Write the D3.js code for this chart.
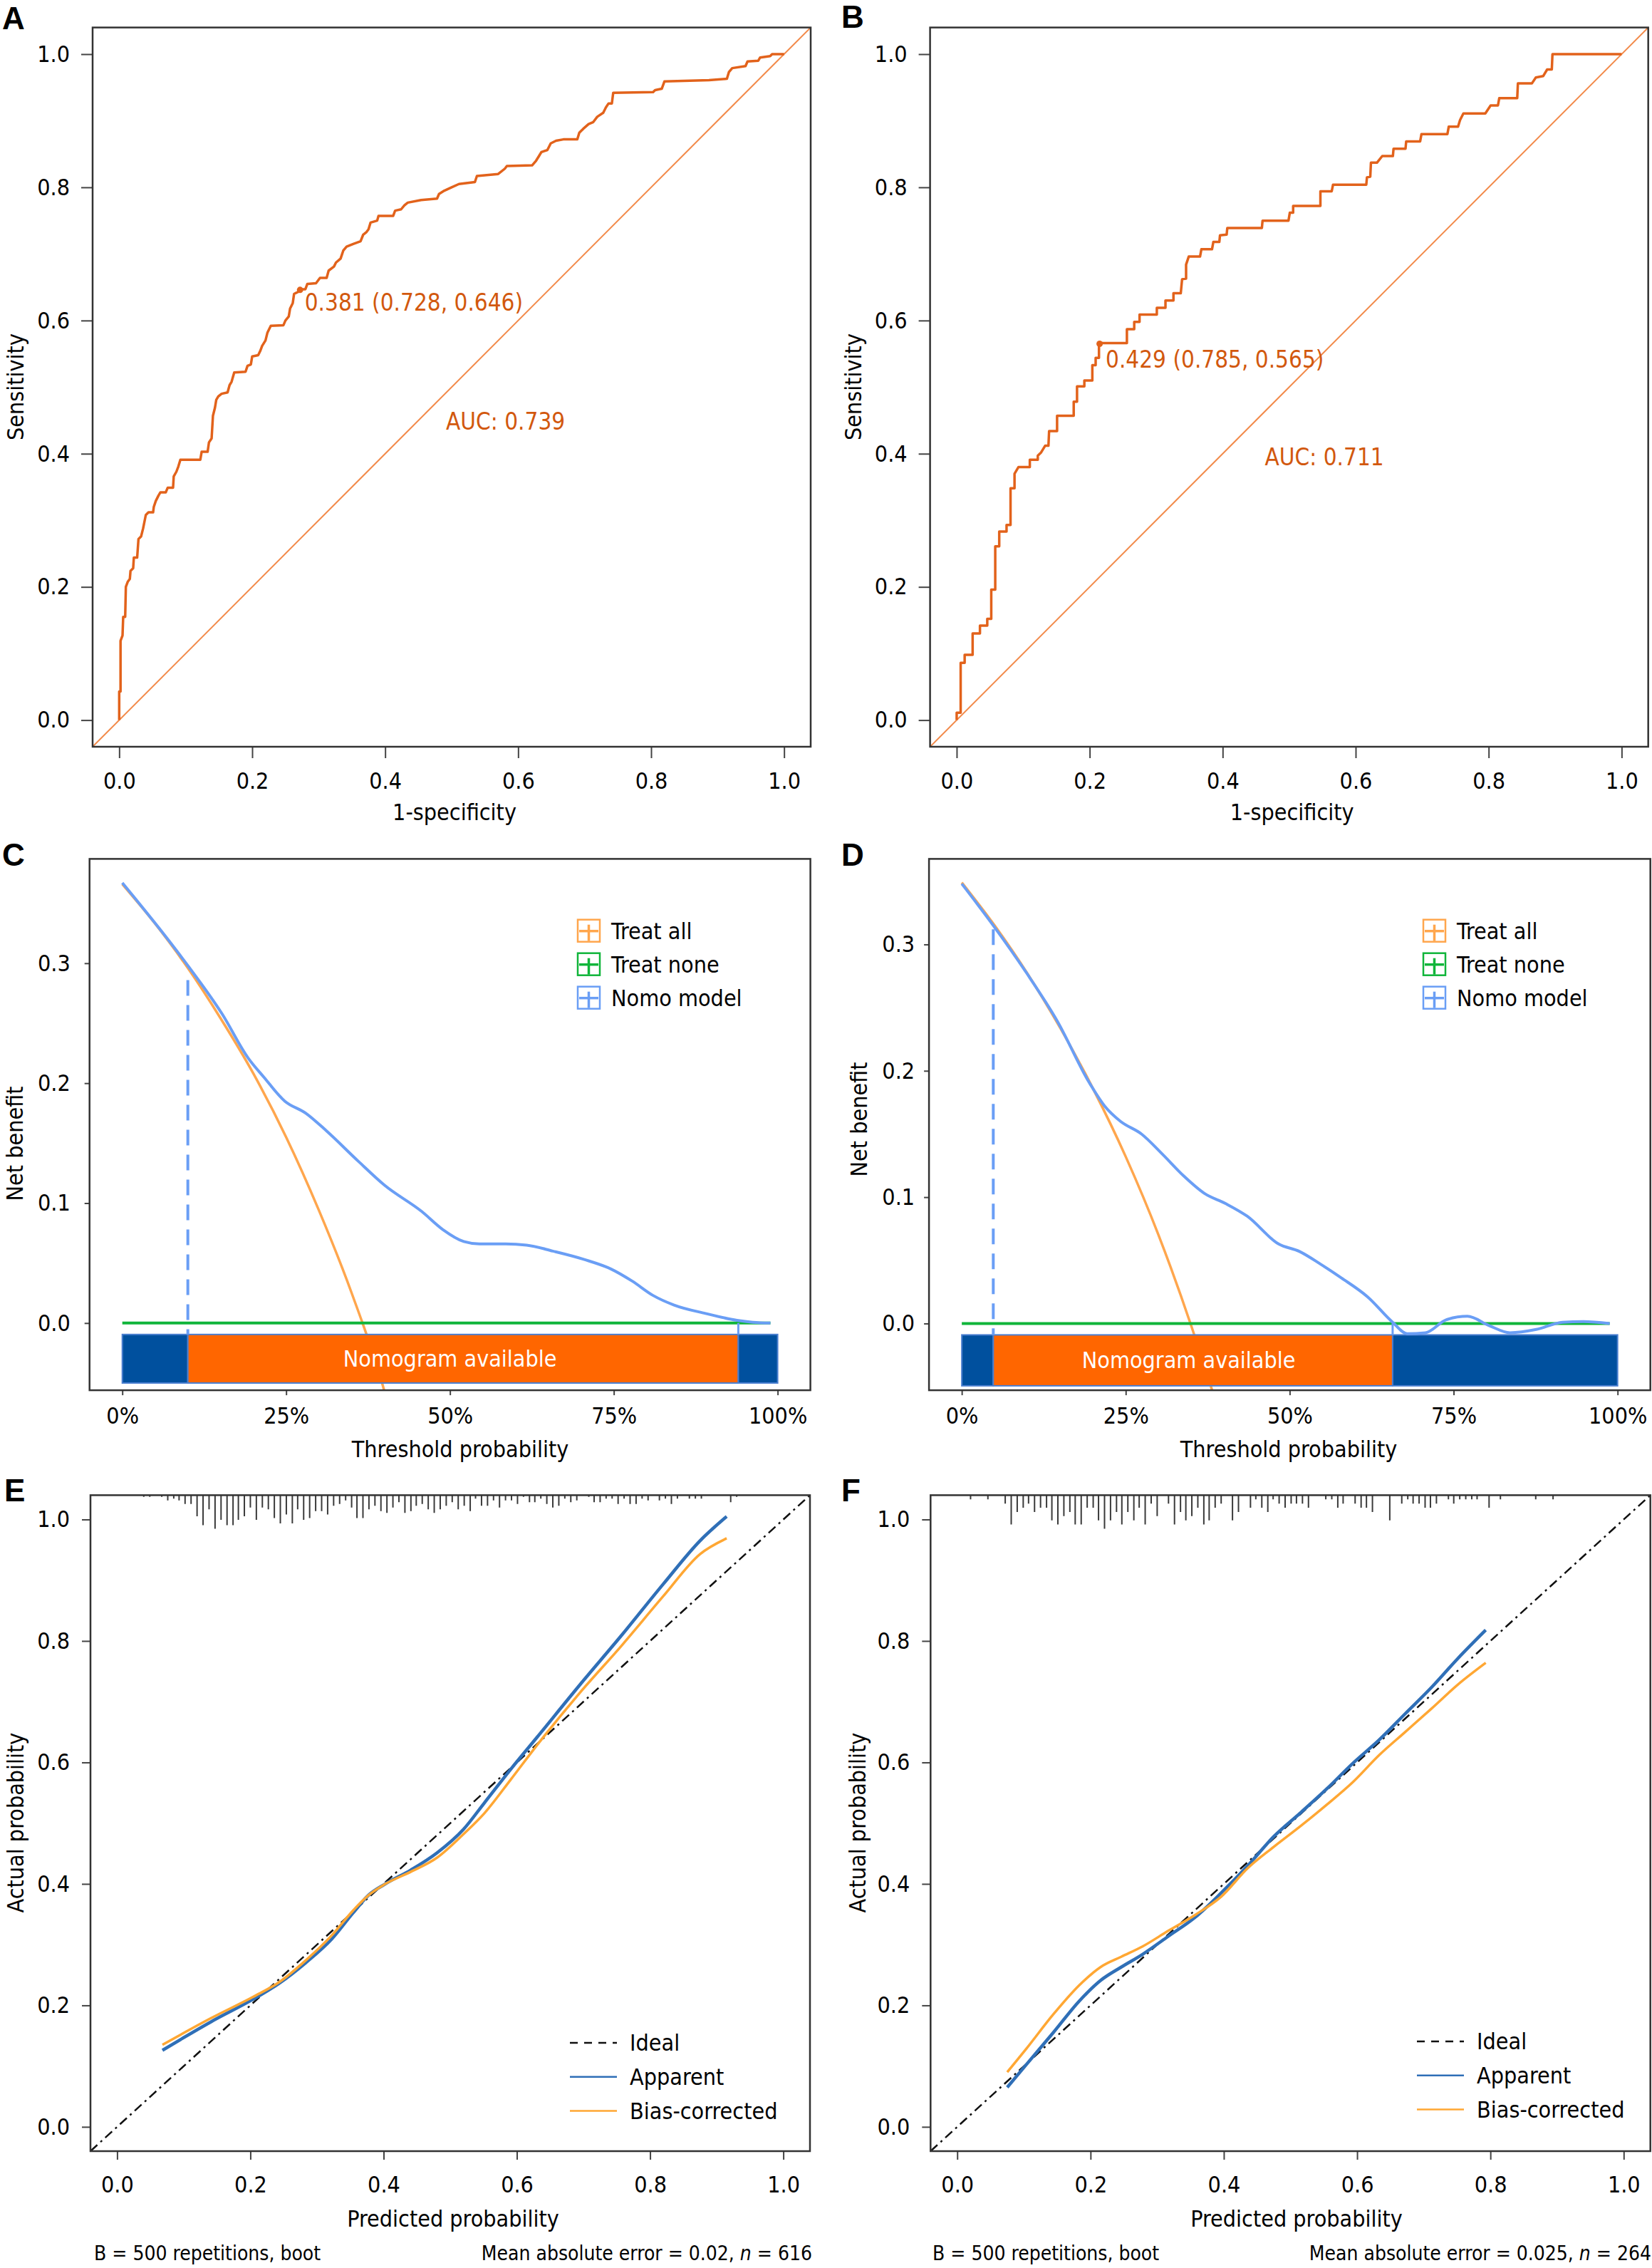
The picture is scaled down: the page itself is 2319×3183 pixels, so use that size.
<!DOCTYPE html>
<html>
<head>
<meta charset="utf-8">
<script src="https://cdn.jsdelivr.net/npm/d3@7"></script>
<style>
  body { margin: 0; background: #fff; }
  svg text { font-family: "DejaVu Sans Condensed", "DejaVu Sans", sans-serif; font-stretch: condensed; }
  svg text.letter { font-family: "Liberation Sans", Arial, sans-serif; font-stretch: normal; font-weight: bold; }
</style>
</head>
<body>
<svg id="fig" width="2319" height="3183"></svg>
<script>

// ---------- data: ROC curves (1-specificity, sensitivity) ----------
var rocA_fpr = [0, 0, .002, .002, .005, .006, .009, .010, .013, .016, .017, .021, .022, .027, .029, .033, .036, .040, .044, .051, .052, .055, .059, .062, .070, .073, .081, .082, .086, .089, .092, .122, .124, .133, .135, .139, .141, .144, .146, .149, .154, .163, .166, .169, .173, .190, .193, .198, .200, .209, .212, .215, .220, .223, .228, .247, .250, .255, .257, .261, .263, .269, .271, .280, .283, .296, .302, .312, .315, .323, .326, .333, .337, .342, .352, .363, .367, .372, .375, .378, .388, .390, .412, .415, .424, .429, .434, .454, .478, .481, .489, .500, .511, .535, .538, .570, .580, .583, .621, .627, .632, .635, .644, .649, .657, .668, .689, .692, .698, .706, .713, .719, .728, .732, .736, .741, .743, .803, .806, .816, .820, .887, .914, .917, .922, .942, .945, .961, .964, .979, .982, 1];
var rocA_tpr = [0, .043, .043, .119, .127, .155, .155, .200, .208, .212, .224, .228, .244, .244, .272, .276, .288, .308, .312, .312, .320, .329, .337, .342, .342, .349, .349, .366, .373, .381, .391, .391, .403, .403, .417, .423, .457, .469, .481, .486, .490, .492, .503, .508, .522, .523, .532, .534, .546, .548, .554, .562, .570, .582, .592, .593, .600, .606, .618, .626, .640, .643, .647, .647, .655, .656, .664, .664, .675, .681, .687, .693, .705, .711, .715, .719, .729, .733, .737, .747, .750, .757, .757, .765, .767, .773, .777, .781, .783, .790, .795, .800, .805, .808, .817, .820, .828, .832, .833, .840, .848, .853, .856, .866, .870, .872, .872, .882, .888, .895, .898, .906, .912, .920, .926, .926, .942, .943, .946, .948, .959, .961, .963, .973, .979, .982, .989, .990, .995, .997, 1, 1];
var rocA_cut = [0.272, 0.646];
var rocA_cutLabel = "0.381 (0.728, 0.646)";
var rocA_auc = "AUC: 0.739";

var rocB_fpr = [0, 0, .006, .006, .012, .012, .024, .024, .035, .035, .046, .046, .052, .052, .058, .058, .064, .064, .075, .075, .081, .081, .087, .087, .093, .110, .110, .122, .122, .127, .133, .138, .139, .151, .151, .176, .176, .181, .181, .192, .192, .204, .204, .209, .209, .214, .214, .256, .256, .267, .267, .275, .275, .301, .301, .314, .314, .326, .326, .337, .339, .345, .345, .349, .366, .368, .384, .386, .395, .396, .406, .407, .459, .460, .499, .501, .506, .506, .547, .547, .564, .566, .616, .617, .622, .623, .632, .640, .656, .657, .675, .676, .697, .699, .738, .740, .754, .757, .762, .795, .803, .814, .816, .843, .844, .865, .871, .882, .888, .895, .896, 1];
var rocB_tpr = [0, .011, .011, .086, .086, .098, .098, .130, .130, .142, .142, .152, .152, .196, .196, .261, .261, .283, .283, .293, .293, .348, .348, .370, .380, .380, .391, .391, .397, .402, .412, .412, .434, .434, .457, .457, .478, .478, .501, .501, .510, .510, .533, .533, .544, .544, .566, .566, .587, .587, .598, .598, .609, .609, .619, .619, .630, .630, .641, .641, .662, .663, .684, .696, .696, .707, .707, .718, .718, .728, .729, .739, .739, .750, .750, .762, .762, .772, .772, .794, .794, .804, .804, .815, .816, .837, .837, .847, .847, .858, .858, .869, .869, .880, .880, .891, .891, .901, .911, .911, .923, .923, .934, .934, .956, .956, .965, .967, .977, .977, 1, 1];
var rocB_cut = [0.215, 0.565];
var rocB_cutLabel = "0.429 (0.785, 0.565)";
var rocB_auc = "AUC: 0.711";

var rocTicks = [0, 0.2, 0.4, 0.6, 0.8, 1.0];

// ---------- data: decision curves (threshold, net benefit) ----------
var dcaC_thr   = [0, .055, .100, .152, .192, .216, .248, .280, .312, .360, .400, .457, .489, .521, .545, .585, .617, .657, .705, .746, .778, .810, .842, .890, .938, .962, .989];
var dcaC_model = [.367, .330, .298, .258, .221, .205, .185, .175, .160, .135, .115, .093, .078, .068, .066, .066, .065, .060, .053, .045, .035, .023, .015, .008, .0023, .0007, 0];
var dcaC_allThr = [0, .05, .10, .15, .20, .25, .30, .35, .40, .42];
var dcaC_all    = [.366, .333, .296, .254, .208, .155, .094, .025, -.057, -.10];
var dcaC_none   = [[0, 0], [.989, 0]];
var dcaC_range  = [0.10, 0.94];
var dcaC_cutNB  = 0.286;

var dcaD_thr   = [0, .048, .098, .146, .194, .218, .242, .274, .306, .338, .370, .402, .435, .483, .515, .547, .579, .619, .657, .679, .707, .739, .771, .804, .836, .876, .916, .948, .988];
var dcaD_model = [.348, .315, .278, .239, .191, .172, .160, .150, .134, .117, .103, .095, .085, .063, .057, .047, .036, .021, .001, -.008, -.0073, .003, .0057, -.0016, -.0073, -.0047, .001, .0016, 0];
var dcaD_allThr = [0, .05, .10, .15, .20, .25, .30, .35, .38, .41];
var dcaD_all    = [.349, .315, .277, .234, .186, .132, .070, -.002, -.050, -.10];
var dcaD_none   = [[0, 0], [.988, 0]];
var dcaD_range  = [0.048, 0.657];
var dcaD_cutNB  = 0.312;

var dcaLegend = ["Treat all", "Treat none", "Nomo model"];
var dcaBarLabel = "Nomogram available";
var dcaXTicks = [0, 0.25, 0.5, 0.75, 1];
var dcaYTicks = [0, 0.1, 0.2, 0.3];

// ---------- data: calibration curves ----------
var calE_pred = [.068, .141, .204, .243, .283, .322, .354, .378, .401, .441, .480, .520, .551, .591, .630, .694, .757, .820, .875, .915];
var calE_app  = [.126, .173, .210, .236, .270, .309, .352, .382, .399, .423, .451, .490, .533, .589, .641, .727, .809, .894, .965, 1.005];
var calE_bias = [.135, .179, .214, .238, .274, .315, .356, .382, .399, .420, .443, .482, .516, .572, .628, .714, .792, .874, .943, .969];

var calF_pred = [.075, .104, .144, .183, .215, .246, .278, .317, .357, .396, .436, .475, .515, .554, .594, .633, .672, .712, .751, .793];
var calF_app  = [.065, .103, .155, .207, .241, .263, .284, .314, .345, .385, .430, .478, .517, .556, .599, .637, .680, .724, .771, .818];
var calF_bias = [.090, .129, .185, .233, .263, .280, .297, .323, .349, .379, .426, .461, .495, .530, .568, .612, .650, .689, .728, .764];

// rug of predicted probabilities (position, count)
var rugE_x = [.040, .049, .067, .076, .085, .093, .102, .111, .120, .129, .138, .147, .156, .165, .174, .182, .191, .200, .209, .218, .227, .236, .245, .254, .263, .271, .280, .289, .298, .307, .316, .325, .334, .343, .352, .360, .369, .378, .387, .396, .405, .414, .423, .432, .441, .449, .458, .467, .476, .485, .494, .503, .512, .521, .530, .538, .547, .556, .565, .574, .583, .592, .601, .610, .619, .627, .636, .645, .654, .663, .672, .681, .690, .708, .716, .725, .734, .743, .752, .761, .770, .779, .788, .797, .814, .823, .832, .841, .859, .868, .877, .921, .930];
var rugE_n = [1, 1, 1, 3, 2, 3, 5, 5, 12, 17, 8, 19, 14, 17, 17, 14, 12, 7, 14, 7, 8, 13, 16, 11, 16, 8, 14, 13, 9, 9, 11, 6, 5, 3, 7, 13, 13, 8, 6, 9, 10, 7, 4, 10, 9, 6, 5, 8, 10, 8, 6, 4, 8, 6, 9, 2, 6, 6, 3, 7, 3, 3, 5, 1, 4, 4, 2, 5, 7, 6, 2, 4, 3, 1, 4, 4, 2, 2, 5, 2, 5, 5, 2, 3, 3, 2, 5, 2, 2, 2, 2, 4, 1];

var rugF_x = [.020, .046, .072, .081, .090, .099, .107, .116, .125, .134, .142, .151, .160, .169, .177, .186, .195, .204, .212, .221, .230, .239, .247, .256, .265, .273, .282, .291, .300, .317, .326, .335, .343, .352, .361, .370, .378, .387, .396, .413, .422, .440, .448, .457, .466, .474, .483, .492, .501, .509, .518, .527, .553, .562, .571, .579, .597, .606, .614, .623, .649, .667, .676, .684, .693, .702, .710, .719, .737, .745, .754, .763, .772, .780, .798, .815, .868, .894];
var rugF_n = [1, 1, 2, 7, 4, 3, 2, 4, 3, 3, 6, 7, 5, 4, 7, 7, 3, 3, 6, 8, 6, 4, 7, 4, 6, 3, 7, 2, 5, 2, 7, 4, 6, 5, 3, 7, 6, 3, 2, 6, 4, 3, 1, 3, 4, 1, 2, 3, 2, 2, 2, 3, 1, 1, 3, 2, 2, 3, 3, 4, 6, 2, 1, 2, 2, 3, 3, 2, 1, 2, 1, 1, 1, 1, 3, 1, 1, 1];

var calLegend = ["Ideal", "Apparent", "Bias-corrected"];
var calFootLeft = "B = 500 repetitions, boot";
var calE_mae = "0.02", calE_n = "616";
var calF_mae = "0.025", calF_n = "264";
var calTicks = [0, 0.2, 0.4, 0.6, 0.8, 1.0];

// ---------- colours ----------
var ROC_LINE = "#e2621b", ROC_TEXT = "#d2580e", ROC_DIAG = "#f28a4a";
var C_ALL = "#ffa64d", C_NONE = "#10b53a", C_MODEL = "#6a9ef5";
var BAR_BLUE = "#00509e", BAR_ORANGE = "#ff6600", BAR_EDGE = "#4b7fd0";
var CAL_APP = "#2f6fb7", CAL_BIAS = "#ffa733";

var FONT = 32;
var svg = d3.select("#fig");
var defs = svg.append("defs");

function addClip(id, box) {
  defs.append("clipPath").attr("id", id).append("rect")
    .attr("x", box[0]).attr("y", box[1])
    .attr("width", box[2] - box[0]).attr("height", box[3] - box[1]);
  return "url(#" + id + ")";
}

function addAxes(x, y, box, o) {
  var ax = svg.append("g").attr("transform", "translate(0," + box[3] + ")")
    .call(d3.axisBottom(x).tickValues(o.xTicks).tickFormat(o.xFormat)
      .tickSize(o.tick).tickPadding(o.xPad).tickSizeOuter(0));
  var ay = svg.append("g").attr("transform", "translate(" + box[0] + ",0)")
    .call(d3.axisLeft(y).tickValues(o.yTicks).tickFormat(o.yFormat)
      .tickSize(o.tick).tickPadding(o.yPad).tickSizeOuter(0));
  [ax, ay].forEach(function(a) {
    a.select(".domain").remove();
    a.selectAll("line").attr("stroke", "#444").attr("stroke-width", 2);
    a.selectAll("text").attr("font-size", FONT).attr("fill", "#000");
  });
  svg.append("rect")
    .attr("x", box[0]).attr("y", box[1])
    .attr("width", box[2] - box[0]).attr("height", box[3] - box[1])
    .attr("fill", "none").attr("stroke", "#333").attr("stroke-width", 2.5);
}

function addTitles(o) {
  svg.append("text").attr("x", o.xt[0]).attr("y", o.xt[1]).attr("dy", "0.35em")
    .attr("text-anchor", "middle").attr("font-size", FONT).text(o.xTitle);
  svg.append("text").attr("dy", "0.35em")
    .attr("transform", "translate(" + o.yt[0] + "," + o.yt[1] + ") rotate(-90)")
    .attr("text-anchor", "middle").attr("font-size", FONT).text(o.yTitle);
  svg.append("text").attr("class", "letter").attr("x", o.letter[0]).attr("y", o.letter[1])
    .attr("font-size", 44).text(o.name);
}

// ---------- ROC panels ----------
function drawRoc(p) {
  var box = p.box;
  var x = d3.scaleLinear().domain([-0.04, 1.04]).range([box[0], box[2]]);
  var y = d3.scaleLinear().domain([-0.04, 1.04]).range([box[3], box[1]]);
  var plot = svg.append("g").attr("clip-path", addClip("clip" + p.name, box));

  plot.append("line")
    .attr("x1", x(-0.04)).attr("y1", y(-0.04)).attr("x2", x(1.04)).attr("y2", y(1.04))
    .attr("stroke", ROC_DIAG).attr("stroke-width", 2);

  var line = d3.line().x(function(i) { return x(p.fpr[i]); }).y(function(i) { return y(p.tpr[i]); });
  plot.append("path").datum(d3.range(p.fpr.length))
    .attr("d", line).attr("fill", "none")
    .attr("stroke", ROC_LINE).attr("stroke-width", 3.5).attr("stroke-linejoin", "round");

  plot.append("circle").attr("cx", x(p.cut[0])).attr("cy", y(p.cut[1])).attr("r", 4.5)
    .attr("fill", ROC_LINE);

  svg.append("text").attr("x", x(p.cutPos[0])).attr("y", y(p.cutPos[1])).attr("dy", "0.35em")
    .attr("font-size", 33).attr("fill", ROC_TEXT).text(p.cutLabel);
  svg.append("text").attr("x", x(p.aucPos[0])).attr("y", y(p.aucPos[1])).attr("dy", "0.35em")
    .attr("text-anchor", "middle").attr("font-size", 33).attr("fill", ROC_TEXT).text(p.auc);

  addAxes(x, y, box, {
    xTicks: rocTicks, yTicks: rocTicks, xFormat: d3.format(".1f"), yFormat: d3.format(".1f"),
    tick: 16, xPad: 20, yPad: 16
  });
  addTitles({
    xTitle: "1-specificity", yTitle: "Sensitivity",
    xt: [(box[0] + box[2]) / 2 + 4, 1140], yt: [box[0] - 108, 543],
    letter: p.letter, name: p.name
  });
}

drawRoc({
  name: "A", box: [130, 38.6, 1138, 1048], letter: [3, 41],
  fpr: rocA_fpr, tpr: rocA_tpr, cut: rocA_cut, cutLabel: rocA_cutLabel, auc: rocA_auc,
  cutPos: [0.279, 0.627], aucPos: [0.581, 0.449]
});
drawRoc({
  name: "B", box: [1305.6, 38.6, 2313.7, 1048], letter: [1181, 39],
  fpr: rocB_fpr, tpr: rocB_tpr, cut: rocB_cut, cutLabel: rocB_cutLabel, auc: rocB_auc,
  cutPos: [0.224, 0.542], aucPos: [0.553, 0.395]
});

// ---------- decision curve panels ----------
function drawDca(p) {
  var box = p.box;
  var x = d3.scaleLinear().domain([-0.05, 1.05]).range([box[0], box[2]]);
  var y = d3.scaleLinear().domain(p.yDomain).range([box[3], box[1]]);
  var plot = svg.append("g").attr("clip-path", addClip("clip" + p.name, box));
  var smooth = d3.line().curve(d3.curveMonotoneX);

  // treat all
  plot.append("path")
    .attr("d", smooth(p.allThr.map(function(t, i) { return [x(t), y(p.all[i])]; })))
    .attr("fill", "none").attr("stroke", C_ALL).attr("stroke-width", 3.5);

  // usefulness bar
  var b0 = y(p.bar[0]), b1 = y(p.bar[1]);
  var segs = [[0, p.range[0], BAR_BLUE], [p.range[0], p.range[1], BAR_ORANGE], [p.range[1], 1, BAR_BLUE]];
  plot.selectAll(".seg").data(segs).enter().append("rect")
    .attr("x", function(d) { return x(d[0]); })
    .attr("y", b0)
    .attr("width", function(d) { return x(d[1]) - x(d[0]); })
    .attr("height", b1 - b0)
    .attr("fill", function(d) { return d[2]; })
    .attr("stroke", BAR_EDGE).attr("stroke-width", 2);
  plot.append("text").attr("x", x(p.labelX)).attr("y", (b0 + b1) / 2).attr("dy", "0.35em")
    .attr("text-anchor", "middle").attr("font-size", FONT).attr("fill", "#fff").text(dcaBarLabel);

  // treat none
  plot.append("line")
    .attr("x1", x(p.none[0][0])).attr("y1", y(p.none[0][1]))
    .attr("x2", x(p.none[1][0])).attr("y2", y(p.none[1][1]))
    .attr("stroke", C_NONE).attr("stroke-width", 4);

  // cut-off markers
  plot.append("line")
    .attr("x1", x(p.range[0])).attr("x2", x(p.range[0]))
    .attr("y1", y(p.cutNB)).attr("y2", b0)
    .attr("stroke", C_MODEL).attr("stroke-width", 4).attr("stroke-dasharray", "22,13");
  plot.append("line")
    .attr("x1", x(p.range[1])).attr("x2", x(p.range[1]))
    .attr("y1", y(0)).attr("y2", b0)
    .attr("stroke", C_MODEL).attr("stroke-width", 3);

  // model
  plot.append("path")
    .attr("d", smooth(p.thr.map(function(t, i) { return [x(t), y(p.model[i])]; })))
    .attr("fill", "none").attr("stroke", C_MODEL).attr("stroke-width", 4);

  // legend
  var cols = [C_ALL, C_NONE, C_MODEL];
  var lg = svg.append("g");
  dcaLegend.forEach(function(name, i) {
    var cy = p.legend[1] + i * 47, lx = p.legend[0];
    lg.append("rect").attr("x", lx).attr("y", cy - 16).attr("width", 31).attr("height", 31)
      .attr("fill", "#fff").attr("stroke", cols[i]).attr("stroke-width", 2.5);
    lg.append("line").attr("x1", lx + 2).attr("x2", lx + 29).attr("y1", cy).attr("y2", cy)
      .attr("stroke", cols[i]).attr("stroke-width", 3.5);
    lg.append("line").attr("x1", lx + 15.5).attr("x2", lx + 15.5).attr("y1", cy - 9).attr("y2", cy + 14)
      .attr("stroke", cols[i]).attr("stroke-width", 3.5);
    lg.append("text").attr("x", lx + 47).attr("y", cy).attr("dy", "0.35em")
      .attr("font-size", FONT).text(name);
  });

  addAxes(x, y, box, {
    xTicks: dcaXTicks, yTicks: dcaYTicks,
    xFormat: function(d) { return Math.round(d * 100) + "%"; }, yFormat: d3.format(".1f"),
    tick: 7, xPad: 17, yPad: p.yPad
  });
  addTitles({
    xTitle: "Threshold probability", yTitle: "Net benefit",
    xt: [p.xTitleX, 2034], yt: [p.yTitle[0], p.yTitle[1]],
    letter: p.letter, name: p.name
  });
}

drawDca({
  name: "C", box: [125.7, 1205.4, 1137.6, 1951.1], letter: [3, 1215],
  yDomain: [-0.056, 0.387], bar: [-0.0095, -0.050],
  thr: dcaC_thr, model: dcaC_model, allThr: dcaC_allThr, all: dcaC_all, none: dcaC_none,
  range: dcaC_range, cutNB: dcaC_cutNB, labelX: 0.50,
  legend: [811, 1306.7], yPad: 20, xTitleX: 646, yTitle: [21, 1605]
});
drawDca({
  name: "D", box: [1304.1, 1205.4, 2316.7, 1951.1], letter: [1181, 1215],
  yDomain: [-0.0528, 0.3677], bar: [-0.009, -0.0493],
  thr: dcaD_thr, model: dcaD_model, allThr: dcaD_allThr, all: dcaD_all, none: dcaD_none,
  range: dcaD_range, cutNB: dcaD_cutNB, labelX: 0.346,
  legend: [1998, 1306.7], yPad: 13, xTitleX: 1809, yTitle: [1206, 1571]
});

// ---------- calibration panels ----------
function drawCal(p) {
  var box = p.box;
  var x = d3.scaleLinear().domain([-0.04, 1.04]).range([box[0], box[2]]);
  var y = d3.scaleLinear().domain([-0.04, 1.04]).range([box[3], box[1]]);
  var plot = svg.append("g").attr("clip-path", addClip("clip" + p.name, box));
  var smooth = d3.line().curve(d3.curveMonotoneX);

  // rug
  var maxN = d3.max(p.rugN);
  var len = d3.scaleLinear().domain([0, maxN]).range([0, 47]);
  plot.selectAll(".rug").data(p.rugX).enter().append("line")
    .attr("x1", function(d) { return x(d); }).attr("x2", function(d) { return x(d); })
    .attr("y1", box[1]).attr("y2", function(d, i) { return box[1] + len(p.rugN[i]); })
    .attr("stroke", "#3a3a3a").attr("stroke-width", 2);

  plot.append("line")
    .attr("x1", x(-0.04)).attr("y1", y(-0.04)).attr("x2", x(1.04)).attr("y2", y(1.04))
    .attr("stroke", "#111").attr("stroke-width", 2.5).attr("stroke-dasharray", "13,6,3,6");

  plot.append("path")
    .attr("d", smooth(p.pred.map(function(v, i) { return [x(v), y(p.app[i])]; })))
    .attr("fill", "none").attr("stroke", CAL_APP).attr("stroke-width", 4.5);
  plot.append("path")
    .attr("d", smooth(p.pred.map(function(v, i) { return [x(v), y(p.bias[i])]; })))
    .attr("fill", "none").attr("stroke", CAL_BIAS).attr("stroke-width", 3.5);

  // legend
  var styles = [["#111", "11,9"], [CAL_APP, null], [CAL_BIAS, null]];
  calLegend.forEach(function(name, i) {
    var cy = p.legend[1] + i * 47.8;
    svg.append("line").attr("x1", p.legend[0]).attr("x2", p.legend[0] + 66)
      .attr("y1", cy).attr("y2", cy)
      .attr("stroke", styles[i][0]).attr("stroke-width", 2.5)
      .attr("stroke-dasharray", styles[i][1]);
    svg.append("text").attr("x", p.legend[0] + 84).attr("y", cy).attr("dy", "0.35em")
      .attr("font-size", FONT).text(name);
  });

  addAxes(x, y, box, {
    xTicks: calTicks, yTicks: calTicks, xFormat: d3.format(".1f"), yFormat: d3.format(".1f"),
    tick: 12, xPad: 23, yPad: 17
  });
  addTitles({
    xTitle: "Predicted probability", yTitle: "Actual probability",
    xt: [p.xTitleX, 3114], yt: [p.yTitleX, 2558],
    letter: p.letter, name: p.name
  });

  // footer
  svg.append("text").attr("x", p.foot[0]).attr("y", 3172).attr("font-size", 28).text(calFootLeft);
  var r = svg.append("text").attr("x", p.foot[1]).attr("y", 3172).attr("font-size", 28)
    .attr("text-anchor", "end");
  r.append("tspan").text("Mean absolute error = " + p.mae + ", ");
  r.append("tspan").attr("font-style", "italic").text("n");
  r.append("tspan").text(" = " + p.n);
}

drawCal({
  name: "E", box: [127, 2098.4, 1137, 3019], letter: [6, 2107],
  pred: calE_pred, app: calE_app, bias: calE_bias, rugX: rugE_x, rugN: rugE_n,
  legend: [800, 2867], xTitleX: 636, yTitleX: 22, foot: [132, 1140], mae: calE_mae, n: calE_n
});
drawCal({
  name: "F", box: [1306.3, 2098.4, 2316.7, 3019], letter: [1181, 2107],
  pred: calF_pred, app: calF_app, bias: calF_bias, rugX: rugF_x, rugN: rugF_n,
  legend: [1989, 2865], xTitleX: 1820, yTitleX: 1204, foot: [1309, 2318], mae: calF_mae, n: calF_n
});

</script>
</body>
</html>
